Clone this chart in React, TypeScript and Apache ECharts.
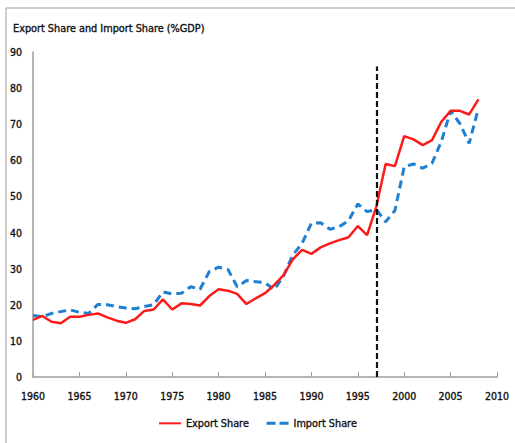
import React, { useEffect, useRef } from "react";
import * as echarts from "echarts";

const years: number[] = [
  1960, 1961, 1962, 1963, 1964, 1965, 1966, 1967, 1968, 1969,
  1970, 1971, 1972, 1973, 1974, 1975, 1976, 1977, 1978, 1979,
  1980, 1981, 1982, 1983, 1984, 1985, 1986, 1987, 1988, 1989,
  1990, 1991, 1992, 1993, 1994, 1995, 1996, 1997, 1998, 1999,
  2000, 2001, 2002, 2003, 2004, 2005, 2006, 2007, 2008,
];

const exportShare: number[] = [
  15.8, 16.9, 15.3, 14.9, 16.7, 16.7, 17.2, 17.6, 16.5, 15.6,
  15.0, 16.0, 18.3, 18.7, 21.5, 18.7, 20.4, 20.2, 19.8, 22.4,
  24.3, 23.9, 23.0, 20.2, 21.8, 23.2, 25.5, 28.2, 32.6, 35.2,
  34.1, 35.9, 37.0, 37.9, 38.7, 41.8, 39.3, 47.2, 59.0, 58.4,
  66.7, 65.8, 64.2, 65.6, 70.7, 73.7, 73.7, 72.7, 76.9,
];

const importShare: number[] = [
  17.0, 16.7, 17.6, 18.1, 18.6, 17.9, 17.6, 20.1, 20.0, 19.5,
  19.1, 18.9, 19.5, 20.0, 23.6, 23.0, 23.2, 25.0, 24.3, 29.2,
  30.4, 29.8, 25.0, 26.7, 26.4, 26.1, 24.2, 28.0, 33.8, 37.0,
  42.6, 42.7, 40.9, 41.6, 43.3, 47.9, 45.8, 46.4, 43.0, 46.1,
  58.2, 59.0, 57.8, 59.2, 65.2, 73.7, 70.2, 64.7, 74.4,
];

const seriesNames: string[] = ["Export Share", "Import Share"];
const breakYear = 1997;
const breakTop = 86;

const FONT = "'DejaVu Sans Condensed', 'Liberation Sans Narrow', Arial, sans-serif";
const heavy = { textBorderColor: "#111", textBorderWidth: 0.35 };

export default function App() {
  const ref = useRef<HTMLDivElement>(null);
  useEffect(() => {
    if (!ref.current) return;
    const chart = echarts.init(ref.current, undefined, { renderer: "svg" });
    chart.setOption({
      animation: false,
      backgroundColor: "#ffffff",
      textStyle: { fontFamily: FONT },
      title: {
        text: "Export Share and Import Share (%GDP)",
        left: 8,
        top: 18,
        textStyle: { fontFamily: FONT, fontSize: 10.8, fontWeight: "normal", color: "#111", ...heavy },
      },
      graphic: [
        { type: "line", shape: { x1: 6, y1: 8, x2: 515, y2: 8 }, style: { stroke: "#bdbdbd", lineWidth: 1.5 } },
        { type: "line", shape: { x1: 6, y1: 8, x2: 6, y2: 443 }, style: { stroke: "#bdbdbd", lineWidth: 1.5 } },
      ],
      grid: { left: 33, right: 18, top: 52, bottom: 66 },
      legend: {
        bottom: 9,
        left: "center",
        itemWidth: 22,
        itemHeight: 3,
        itemGap: 16,
        itemStyle: { color: "rgba(0,0,0,0)", borderWidth: 0, opacity: 0 },
        textStyle: { fontFamily: FONT, fontSize: 10.8, fontWeight: "normal", color: "#111", ...heavy },
        data: [
          { name: seriesNames[0] },
          { name: seriesNames[1], lineStyle: { type: [9, 4], width: 3 } },
        ],
      },
      xAxis: {
        type: "value",
        min: 1960,
        max: 2010,
        interval: 5,
        axisLine: { show: true, lineStyle: { color: "#9e9e9e", width: 1.5 } },
        axisTick: { show: true, inside: true, length: 5, lineStyle: { color: "#9e9e9e" } },
        splitLine: { show: false },
        axisLabel: {
          formatter: (v: number) => String(v),
          fontFamily: FONT,
          fontSize: 10.5,
          fontWeight: "normal",
          color: "#111",
          margin: 13,
          ...heavy,
        },
      },
      yAxis: {
        type: "value",
        min: 0,
        max: 90,
        interval: 10,
        axisLine: { show: true, lineStyle: { color: "#9e9e9e", width: 1.5 } },
        axisTick: { show: false },
        splitLine: { show: false },
        axisLabel: {
          fontFamily: FONT,
          fontSize: 10.5,
          fontWeight: "normal",
          color: "#111",
          margin: 11,
          ...heavy,
        },
      },
      series: [
        {
          name: seriesNames[0],
          type: "line",
          data: years.map((y, i) => [y, exportShare[i]]),
          symbol: "none",
          z: 3,
          lineStyle: { color: "#ff1a1a", width: 2.5 },
          itemStyle: { color: "#ff1a1a" },
          markLine: {
            silent: true,
            symbol: "none",
            label: { show: false },
            lineStyle: { color: "#111", type: [6, 3], width: 2.2 },
            data: [[{ coord: [breakYear, 0] }, { coord: [breakYear, breakTop] }]],
          },
        },
        {
          name: seriesNames[1],
          type: "line",
          data: years.map((y, i) => [y, importShare[i]]),
          symbol: "none",
          z: 2,
          lineStyle: { color: "#1f7fd0", width: 3, type: [8, 5] },
          itemStyle: { color: "#1f7fd0" },
        },
      ],
    });
    return () => chart.dispose();
  }, []);
  return (
    <div
      ref={ref}
      style={{ position: "fixed", left: 0, top: 0, width: 515, height: 443 }}
    />
  );
}
